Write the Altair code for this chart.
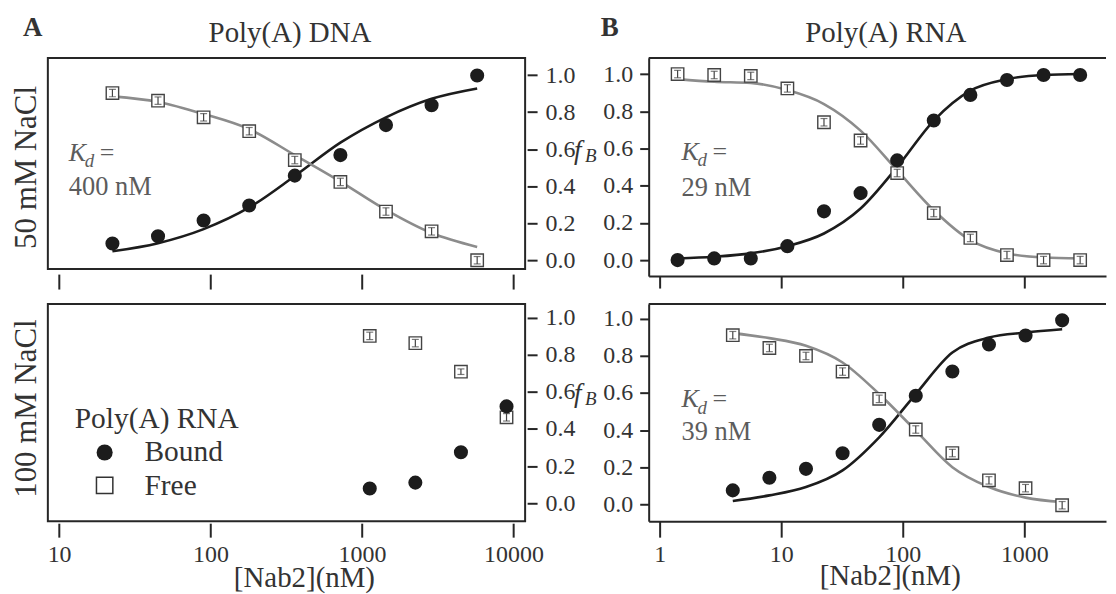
import altair as alt
import pandas as pd

FONT = "Liberation Serif"
INK = "#1c1c1c"
FIT_GRAY = "#8c8c8c"
TXT = "#333333"
KD_COL = "#5c5c5c"
FRAME = "#262626"
SQ = "#444444"

# ---------------- data ----------------
# Poly(A) DNA, 50 mM NaCl
x_dna50 = [22.5, 45, 90, 180, 360, 720, 1440, 2880, 5760]
bound_dna50 = [0.090, 0.129, 0.215, 0.296, 0.457, 0.568, 0.730, 0.837, 0.998]
free_dna50 = [0.903, 0.862, 0.772, 0.697, 0.541, 0.423, 0.263, 0.156, 0.000]
err_dna50 = [0.02, 0.02, 0.02, 0.02, 0.02, 0.02, 0.02, 0.02, 0.02]
fitb_dna50 = [0.048, 0.092, 0.168, 0.285, 0.455, 0.635, 0.772, 0.872, 0.928]
fitf_dna50 = [0.885, 0.855, 0.790, 0.708, 0.568, 0.425, 0.272, 0.147, 0.072]

# Poly(A) RNA, 50 mM NaCl
x_rna50 = [1.40625, 2.8125, 5.625, 11.25, 22.5, 45, 90, 180, 360, 720, 1440, 2880]
bound_rna50 = [0.000, 0.009, 0.009, 0.075, 0.262, 0.360, 0.536, 0.750, 0.888, 0.968, 0.995, 0.995]
free_rna50 = [1.000, 0.995, 0.990, 0.923, 0.741, 0.643, 0.468, 0.253, 0.119, 0.027, 0.000, 0.000]
err_rna50 = [0.02, 0.02, 0.02, 0.02, 0.02, 0.02, 0.02, 0.02, 0.02, 0.02, 0.02, 0.02]
fitb_rna50 = [0.009, 0.018, 0.036, 0.075, 0.143, 0.277, 0.500, 0.750, 0.911, 0.973, 0.995, 1.000]
fitf_rna50 = [0.973, 0.959, 0.952, 0.914, 0.839, 0.696, 0.482, 0.268, 0.107, 0.036, 0.014, 0.009]

# Poly(A) DNA, 100 mM NaCl
x_dna100 = [1125, 2250, 4500, 9000]
bound_dna100 = [0.079, 0.111, 0.275, 0.522]
free_dna100 = [0.902, 0.863, 0.709, 0.463]
err_dna100 = [0.02, 0.02, 0.015, 0.02]

# Poly(A) RNA, 100 mM NaCl
x_rna100 = [4, 8, 16, 32, 64, 128, 256, 512, 1024, 2048]
bound_rna100 = [0.075, 0.143, 0.191, 0.275, 0.428, 0.585, 0.715, 0.861, 0.909, 0.991]
free_rna100 = [0.911, 0.842, 0.799, 0.715, 0.568, 0.403, 0.276, 0.129, 0.087, -0.005]
err_rna100 = [0.02, 0.02, 0.02, 0.02, 0.02, 0.02, 0.02, 0.02, 0.02, 0.02]
fitb_rna100 = [0.018, 0.048, 0.093, 0.183, 0.361, 0.594, 0.818, 0.898, 0.925, 0.943]
fitf_rna100 = [0.922, 0.895, 0.854, 0.764, 0.594, 0.397, 0.200, 0.093, 0.036, 0.012]

y_ticks = [0.0, 0.2, 0.4, 0.6, 0.8, 1.0]
x_ticks_dna = [10, 100, 1000, 10000]
x_ticks_rna = [1, 10, 100, 1000]


def txt(t, x, y, size, color=TXT, style="normal", weight="normal",
        align="left", baseline="alphabetic", angle=0):
    kw = dict(font=FONT, fontSize=size, fontStyle=style, fontWeight=weight,
              color=color, align=align, baseline=baseline)
    if angle:
        kw["angle"] = angle
    return alt.Chart(pd.DataFrame({"t": [t]})).mark_text(**kw).encode(
        text="t:N", x=alt.value(x), y=alt.value(y))


def kd(x0, yb, yb2, value):
    return [
        txt("K", x0, yb, 26, KD_COL, style="italic"),
        txt("d", x0 + 16, yb + 7, 19, KD_COL, style="italic"),
        txt("=", x0 + 31, yb, 26, KD_COL),
        txt(value, x0, yb2, 26.5, KD_COL),
    ]


def panel(x, bound, free, err, fit_b, fit_f, xdom, xvals, ydom, w, h,
          y_orient, x_labels, x_tick, x_off, y_tick, y_off, y_pad,
          boxed, title_x=0, extra=()):
    xaxis = dict(values=xvals, format="d", tickSize=x_tick, offset=x_off,
                 labels=x_labels, domain=not boxed, labelPadding=5,
                 labelFlush=False, labelOverlap=False)
    if x_labels:
        xaxis.update(title="[Nab2](nM)", titleX=title_x, titleY=64,
                     titleBaseline="alphabetic", titleAlign="center",
                     titleAnchor="start")
    else:
        xaxis["title"] = None
    xs = alt.Scale(type="log", domain=xdom, nice=False)
    ys = alt.Scale(domain=ydom, nice=False, zero=False)
    yaxis = alt.Axis(values=y_ticks, format=".1f", orient=y_orient,
                     tickSize=y_tick, offset=y_off, labelPadding=y_pad,
                     domain=not boxed, title=None, labelFlush=False)

    def X():
        return alt.X("x:Q", scale=xs, axis=alt.Axis(**xaxis))

    def Y(f):
        return alt.Y(f + ":Q", scale=ys, axis=yaxis)

    pts = pd.DataFrame({"x": x, "b": bound, "f": free,
                        "lo": [v - e for v, e in zip(free, err)],
                        "hi": [v + e for v, e in zip(free, err)]})
    layers = []
    if fit_b is not None:
        fits = pd.DataFrame({"x": x, "fb": fit_b, "ff": fit_f})
        layers.append(alt.Chart(fits).mark_line(
            color=INK, strokeWidth=2.6, interpolate="monotone"
        ).encode(x=X(), y=Y("fb")))
        layers.append(alt.Chart(fits).mark_line(
            color=FIT_GRAY, strokeWidth=2.6, interpolate="monotone"
        ).encode(x=X(), y=Y("ff")))
    base = alt.Chart(pts)
    layers += [
        base.mark_square(size=155, fill="white", stroke=SQ, strokeWidth=1.4,
                         opacity=1).encode(x=X(), y=Y("f")),
        base.mark_rule(color=SQ, strokeWidth=1.2).encode(
            x=X(), y=Y("lo"), y2="hi:Q"),
        base.mark_tick(orient="horizontal", size=7, thickness=1.2,
                       color=SQ).encode(x=X(), y=Y("lo")),
        base.mark_tick(orient="horizontal", size=7, thickness=1.2,
                       color=SQ).encode(x=X(), y=Y("hi")),
        base.mark_circle(size=200, color=INK, opacity=1).encode(
            x=X(), y=Y("b")),
    ]
    if not boxed:
        layers.append(alt.Chart(pd.DataFrame({"t": ["top"]})).mark_rule(
            color=FRAME, strokeWidth=2).encode(
            x=alt.value(0), x2=alt.value(w), y=alt.value(0)))
    layers += list(extra)
    ch = alt.layer(*layers).properties(width=w, height=h)
    if not boxed:
        ch = ch.properties(view=alt.ViewBackground(stroke="transparent"))
    return ch


tl_extra = [
    txt("A", -25, -22, 27, TXT, weight="bold"),
    txt("Poly(A) DNA", 243, -16, 29, TXT, align="center"),
    txt("50 mM NaCl", -21, 110, 31, TXT, align="center",
        baseline="middle", angle=270),
    txt("f", 528, 101, 27, TXT, style="italic"),
    txt("B", 539, 104, 19, TXT, style="italic"),
] + kd(21, 103, 138, "400 nM")

tr_extra = [
    txt("B", -48, -22, 27, TXT, weight="bold"),
    txt("Poly(A) RNA", 238, -16, 29, TXT, align="center"),
] + kd(33, 102, 139, "29 nM")

bl_extra = [
    txt("100 mM NaCl", -21, 105, 31, TXT, align="center",
        baseline="middle", angle=270),
    txt("f", 528, 98, 27, TXT, style="italic"),
    txt("B", 539, 101, 19, TXT, style="italic"),
    txt("Poly(A) RNA", 27, 124, 29.5, TXT),
    alt.Chart(pd.DataFrame({"t": ["Bound"]})).mark_circle(
        size=260, color=INK, opacity=1).encode(x=alt.value(57), y=alt.value(149)),
    txt("Bound", 97, 158, 29.5, TXT),
    alt.Chart(pd.DataFrame({"t": ["Free"]})).mark_square(
        size=270, fill="white", stroke=TXT, strokeWidth=1.5, opacity=1).encode(
        x=alt.value(57), y=alt.value(182)),
    txt("Free", 97, 192, 29.5, TXT),
]

br_extra = kd(33, 103, 137, "39 nM")

tl = panel(x_dna50, bound_dna50, free_dna50, err_dna50, fitb_dna50, fitf_dna50,
           [8.43, 11940], x_ticks_dna, [-0.048, 1.093], 479, 212,
           "right", False, 15, 5, 10, 2, 8, True, extra=tl_extra)
tr = panel(x_rna50, bound_rna50, free_rna50, err_rna50, fitb_rna50, fitf_rna50,
           [0.813, 4700], x_ticks_rna, [-0.086, 1.087], 459, 219,
           "left", False, 12, 0, 9, 0, 7, False, extra=tr_extra)
bl = panel(x_dna100, bound_dna100, free_dna100, err_dna100, None, None,
           [8.43, 11940], x_ticks_dna, [-0.097, 1.074], 479, 218,
           "right", True, 14, 2, 10, 2, 8, True, title_x=257, extra=bl_extra)
br = panel(x_rna100, bound_rna100, free_rna100, err_rna100, fitb_rna100, fitf_rna100,
           [0.813, 4700], x_ticks_rna, [-0.091, 1.079], 459, 218,
           "left", True, 16, 0, 9, 0, 7, False, title_x=242, extra=br_extra)

chart = alt.concat(
    tl, tr, bl, br, columns=2,
    spacing=alt.RowColnumber(row=28, column=124), bounds="flush"
).properties(
    padding={"left": 1, "top": 4, "right": 0, "bottom": 0}
).configure_view(
    stroke=FRAME, strokeWidth=2
).configure_axis(
    labelFont=FONT, labelFontSize=24, labelColor=TXT,
    titleFont=FONT, titleFontSize=29, titleFontWeight="normal", titleColor=TXT,
    tickColor=FRAME, tickWidth=2, domainColor=FRAME, domainWidth=2, grid=False
)

chart.save("out.html", embed_options={"renderer": "svg", "actions": False})
